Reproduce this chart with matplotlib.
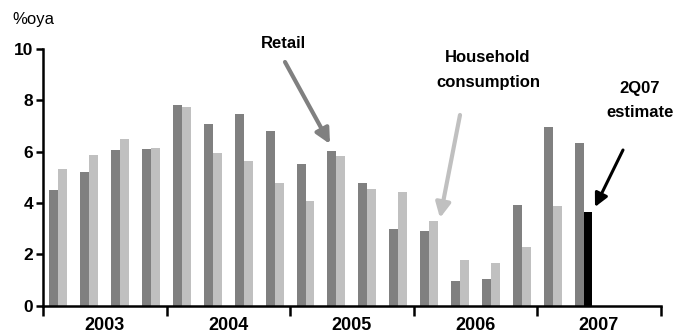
import numpy as np
import matplotlib.pyplot as plt
from matplotlib import font_manager

names = {f.name for f in font_manager.fontManager.ttflist}
family = ['Liberation Sans Narrow'] if 'Liberation Sans Narrow' in names else ['Liberation Sans']
plt.rcParams['font.family'] = family + ['DejaVu Sans']

years = ['2003', '2004', '2005', '2006', '2007']
retail = [4.5, 5.2, 6.05, 6.1, 7.8, 7.08, 7.47, 6.8, 5.52, 6.03,
          4.78, 2.99, 2.91, 0.96, 1.04, 3.92, 6.96, 6.34]
household = [5.32, 5.85, 6.49, 6.16, 7.74, 5.95, 5.64, 4.78, 4.08, 5.83,
             4.55, 4.43, 3.3, 1.78, 1.66, 2.29, 3.88]
estimate = 3.65  # 2Q07 household consumption

fig = plt.figure(figsize=(6.89, 3.33), dpi=100)
ax = fig.add_axes([0.0624, 0.082, 0.8966, 0.771])

w = 0.29
q = np.arange(len(retail))
ax.bar(q - w / 2, retail, width=w, color='#808080')
ax.bar(q[:len(household)] + w / 2, household, width=w, color='#c0c0c0')
ax.bar(q[-1] + w / 2, estimate, width=w, color='black')

ax.set_xlim(-0.5, 19.5)
ax.set_ylim(0, 10)
for s in ['top', 'right']:
    ax.spines[s].set_visible(False)
for s in ['left', 'bottom']:
    ax.spines[s].set_linewidth(1.8)

ax.set_yticks(range(0, 11, 2))
ax.tick_params(axis='y', direction='out', length=5, width=1.8, labelsize=12.5, pad=2)
for t in ax.get_yticklabels():
    t.set_fontweight('bold')

ax.set_xticks(np.arange(-0.5, 20, 4))
ax.set_xticklabels([])
ax.tick_params(axis='x', which='major', direction='out', length=7, width=1.8)
ax.set_xticks(np.arange(1.5, 20, 4), minor=True)
ax.set_xticklabels(years, minor=True, fontsize=13, fontweight='bold')
ax.tick_params(axis='x', which='minor', length=0, pad=8)

fig.text(0.018, 0.94, '%oya', fontsize=12, va='center')


def arrow(start, end, color, lw, size):
    # start/end given in figure pixels measured from the top edge
    ax.annotate('', xy=(end[0], 333 - end[1]), xycoords='figure pixels',
                xytext=(start[0], 333 - start[1]), textcoords='figure pixels',
                arrowprops=dict(arrowstyle='-|>', color=color, lw=lw,
                                mutation_scale=size, shrinkA=0, shrinkB=0))


def label(x, y, s):
    fig.text(x / 689, 1 - y / 333, s, ha='center', va='center',
             fontsize=12, fontweight='bold', linespacing=1.75)


label(283, 43, 'Retail')
arrow((285, 62), (330, 144), '#808080', 3, 22)
label(488, 70, 'Household\nconsumption')
arrow((460, 115), (440, 218), '#c0c0c0', 3, 22)
label(640, 101, '2Q07\nestimate')
arrow((623, 150), (595, 207), 'black', 2.2, 20)

fig.savefig('out.png', dpi=100)
